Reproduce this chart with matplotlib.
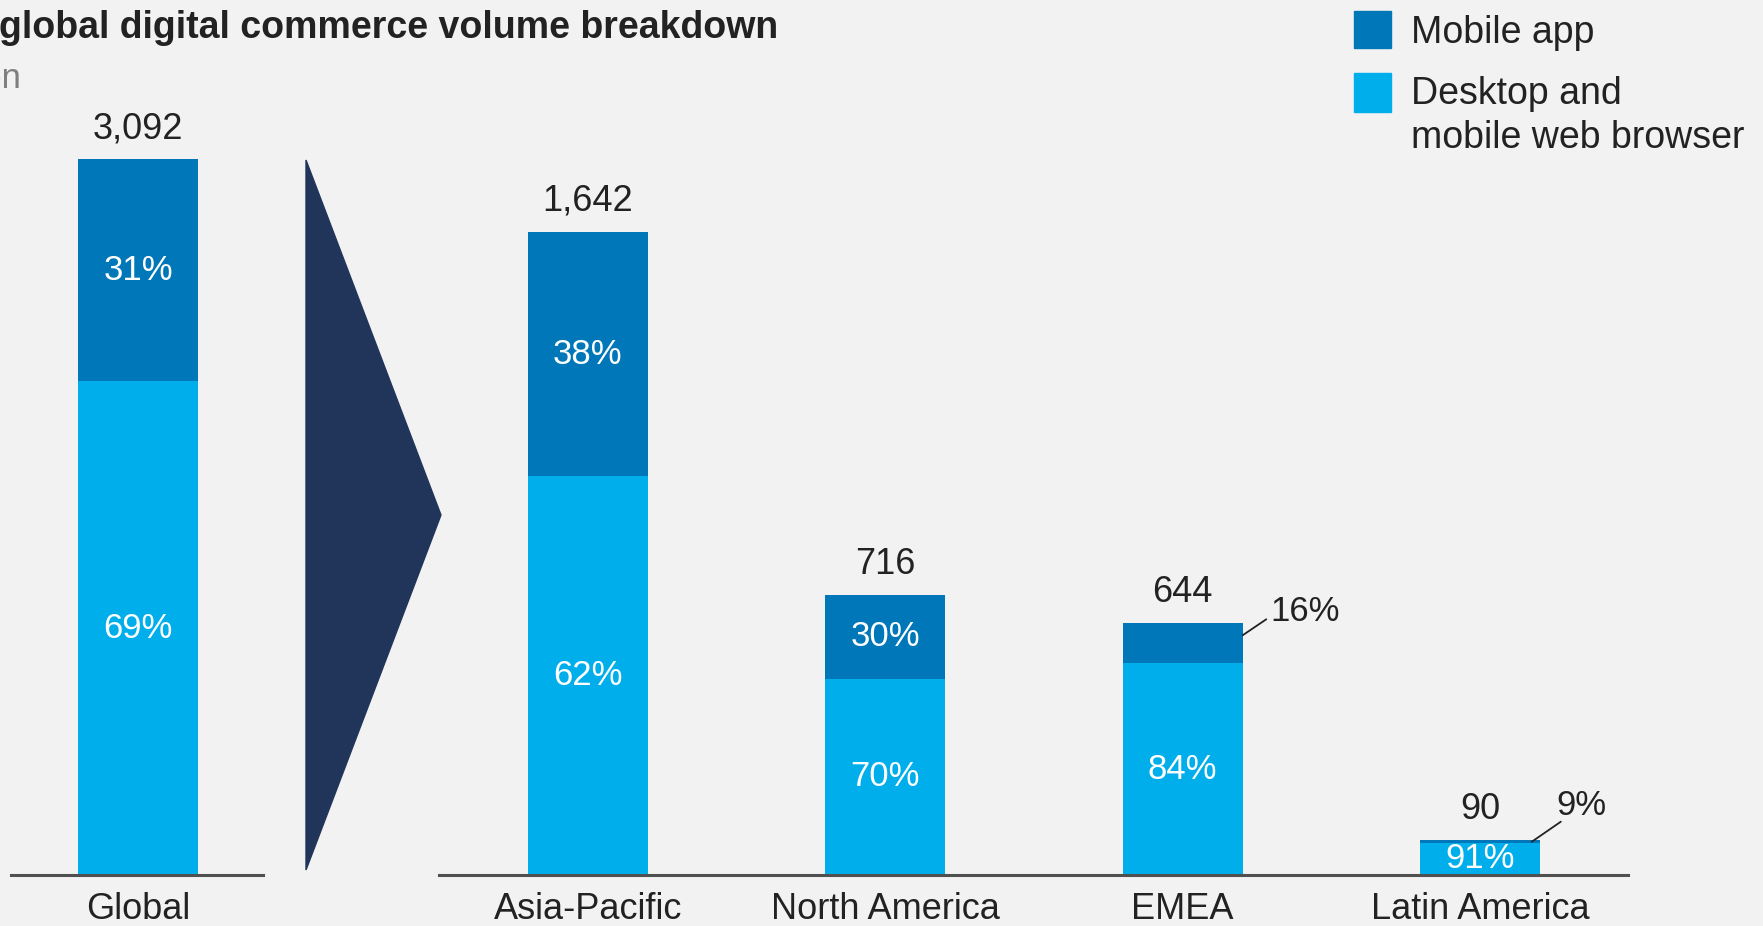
import numpy as np
import matplotlib
matplotlib.use('Agg')
import matplotlib.pyplot as plt
from matplotlib.patches import Polygon, Rectangle
from matplotlib.transforms import offset_copy

plt.rcParams['font.family'] = ['Liberation Sans', 'DejaVu Sans']

# Volumes ($ billion) and mobile-app share
global_label = ['Global']
global_total = [3092]
global_app_share = [0.31]

regions = ['Asia-Pacific', 'North America', 'EMEA', 'Latin America']
region_total = [1642, 716, 644, 90]
region_app_share = [0.38, 0.30, 0.16, 0.09]

APP = '#0077B8'
WEB = '#00AEEB'
NAVY = '#21345A'
BG = '#F2F2F2'
TXT = '#222222'
W, H, DPI = 1763, 926, 100

fig = plt.figure(figsize=(W / DPI, H / DPI), dpi=DPI, facecolor=BG)

def px_axes(x0, x1, y_base, xlim, ylim):
    # axes spanning x0..x1 pixels, baseline at y_base (from top), up to figure top
    ax = fig.add_axes([x0 / W, (H - y_base) / H, (x1 - x0) / W, y_base / H])
    ax.set_xlim(*xlim)
    ax.set_ylim(*ylim)
    return ax

def draw_bars(ax, labels, totals, shares, leaders=None):
    totals = np.array(totals, dtype=float)
    shares = np.array(shares)
    app = totals * shares
    web = totals - app
    x = np.arange(len(labels))
    ax.bar(x, web, width=0.404, color=WEB, zorder=1)
    ax.bar(x, app, width=0.404, bottom=web, color=APP, zorder=1)
    for i in range(len(labels)):
        ax.annotate(f'{totals[i]:,.0f}', (x[i], totals[i]), xytext=(0, 22),
                    textcoords='offset points', ha='center', va='center',
                    fontsize=26, color=TXT)
        ax.text(x[i], web[i] / 2, f'{1 - shares[i]:.0%}', ha='center', va='center',
                fontsize=25, color='white', clip_on=True)
        if leaders and i in leaders:
            (sx, sy), (ex, ey), (tx, ty) = leaders[i]
            corner = (x[i] + 0.202, totals[i])
            ax.annotate('', corner, xytext=corner,
                        xycoords=offset_copy(ax.transData, fig=fig, x=sx, y=sy, units='points'),
                        textcoords=offset_copy(ax.transData, fig=fig, x=ex, y=ey, units='points'),
                        arrowprops=dict(arrowstyle='-', color=TXT, lw=1.3,
                                        shrinkA=0, shrinkB=0),
                        annotation_clip=False)
            ax.annotate(f'{shares[i]:.0%}', corner, xytext=(tx, ty),
                        textcoords='offset points', ha='left', va='center',
                        fontsize=25, color=TXT)
        else:
            ax.text(x[i], web[i] + app[i] / 2, f'{shares[i]:.0%}', ha='center',
                    va='center', fontsize=25, color='white')
        ax.annotate(labels[i], (x[i], 0), xytext=(0, -24.5), textcoords='offset points',
                    ha='center', va='center', fontsize=26, color=TXT,
                    annotation_clip=False)
    for s in ['top', 'left', 'right']:
        ax.spines[s].set_visible(False)
    ax.spines['bottom'].set_color('#505050')
    ax.spines['bottom'].set_linewidth(2.2)
    ax.set_xticks([])
    ax.set_yticks([])
    ax.set_facecolor('none')

ax1 = px_axes(11, 263, 875, (-0.428, 0.421), (0, 3779))
draw_bars(ax1, global_label, global_total, global_app_share)

ax2 = px_axes(439, 1628, 875, (-0.501, 3.498), (0, 2234))
draw_bars(ax2, regions, region_total, region_app_share,
          leaders={2: ((0, -9), (17, 2.5), (20, 8)),
                   3: ((-6, -1.5), (15, 13), (12, 25))})

# chevron between global and regional split
tri = Polygon([(306 / W, 1 - 160 / H), (306 / W, 1 - 870 / H), (441 / W, 1 - 515 / H)],
              closed=True, transform=fig.transFigure, color=NAVY, zorder=0)
fig.patches.append(tri)

# title and unit
fig.text(778 / W, 1 - 28 / H, 'global digital commerce volume breakdown',
         ha='right', va='center', fontsize=27, fontweight='bold', color=TXT)
fig.text(21 / W, 1 - 78 / H, '$ billion', ha='right', va='center',
         fontsize=25, color='#7F7F7F')

# legend
for (y0, y1), c in zip([(11, 48), (73, 112)], [APP, WEB]):
    fig.patches.append(Rectangle((1354 / W, 1 - y1 / H), 37 / W, (y1 - y0) / H,
                                 transform=fig.transFigure, color=c))
fig.text(1411 / W, 1 - 33 / H, 'Mobile app', ha='left', va='center',
         fontsize=27, color=TXT)
fig.text(1411 / W, 1 - 116 / H, 'Desktop and\nmobile web browser', ha='left',
         va='center', fontsize=27, color=TXT, linespacing=1.32)

fig.savefig('out.png', dpi=DPI, facecolor=BG)
